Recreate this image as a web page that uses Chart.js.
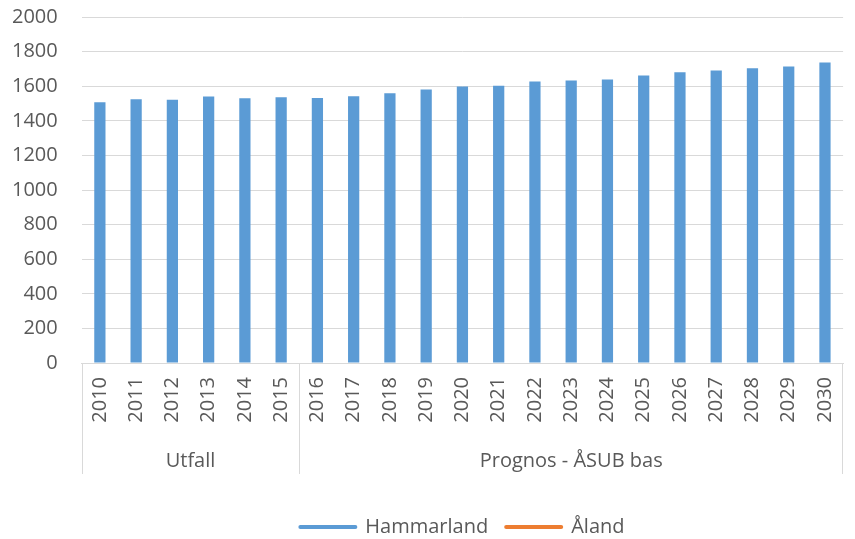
<!DOCTYPE html>
<html lang="sv">
<head>
  <meta charset="UTF-8" />
  <title>Hammarland</title>
  <script src="https://cdn.jsdelivr.net/npm/chart.js"></script>
  <style>
    html, body {
      margin: 0;
      padding: 0;
      background: #ffffff;
    }
    #wrap {
      width: 855px;
      height: 539px;
    }
  </style>
</head>
<body>
  <div id="wrap"><canvas id="chart" width="855" height="539"></canvas></div>

  <script>
    const years = ['2010', '2011', '2012', '2013', '2014', '2015', '2016', '2017', '2018', '2019', '2020',
      '2021', '2022', '2023', '2024', '2025', '2026', '2027', '2028', '2029', '2030'];
    const hammarland = [1507, 1525, 1522, 1540, 1530, 1536, 1532, 1542, 1559, 1581, 1598,
      1602, 1627, 1633, 1639, 1662, 1681, 1691, 1704, 1714, 1737];
    const aland = [];
    const groupNames = ['Utfall', 'Prognos - ÅSUB bas'];
    const groupSizes = [6, 15];
    const yTicks = [0, 200, 400, 600, 800, 1000, 1200, 1400, 1600, 1800, 2000];

    const textColor = '#595959';
    const lineColor = '#d9d9d9';
    const font = "'Open Sans', sans-serif";

    // grupprader under x-axeln (Utfall / Prognos)
    const groupAxis = {
      id: 'groupAxis',
      afterDraw(chart) {
        const ctx = chart.ctx;
        const x = chart.scales.x;
        const step = x.width / years.length;
        const top = chart.chartArea.bottom;
        const bottom = top + 111;
        ctx.save();
        ctx.strokeStyle = lineColor;
        ctx.lineWidth = 1;
        ctx.fillStyle = textColor;
        ctx.font = '20px ' + font;
        ctx.textAlign = 'center';
        ctx.textBaseline = 'middle';
        let idx = 0;
        const edges = [x.getPixelForValue(0) - step / 2];
        groupNames.forEach((name, i) => {
          const start = x.getPixelForValue(idx) - step / 2;
          idx += groupSizes[i];
          const end = x.getPixelForValue(idx - 1) + step / 2;
          edges.push(end);
          ctx.fillText(name, (start + end) / 2, top + 98);
        });
        edges.forEach(e => {
          const px = Math.round(Math.min(e, chart.chartArea.right - 1)) + 0.5;
          ctx.beginPath();
          ctx.moveTo(px, top);
          ctx.lineTo(px, bottom);
          ctx.stroke();
        });
        ctx.restore();
      }
    };

    new Chart(document.getElementById('chart').getContext('2d'), {
      type: 'bar',
      data: {
        labels: years,
        datasets: [{
          label: 'Hammarland',
          data: hammarland,
          backgroundColor: '#5b9bd5',
          borderWidth: 0,
          barPercentage: 0.31,
          categoryPercentage: 1
        }, {
          type: 'line',
          label: 'Åland',
          data: aland,
          borderColor: '#ed7d31',
          backgroundColor: '#ed7d31',
          borderWidth: 3
        }]
      },
      options: {
        responsive: false,
        animation: false,
        layout: {
          padding: { left: 8, right: 1, top: 17, bottom: -8 }
        },
        plugins: {
          tooltip: { enabled: false },
          legend: {
            position: 'bottom',
            fullSize: false,
            labels: {
              color: textColor,
              font: { family: font, size: 20 },
              usePointStyle: true,
              pointStyleWidth: 55,
              padding: 18,
              generateLabels(chart) {
                return chart.data.datasets.map((ds, i) => ({
                  text: ds.label,
                  fillStyle: i === 0 ? ds.backgroundColor : ds.borderColor,
                  strokeStyle: i === 0 ? ds.backgroundColor : ds.borderColor,
                  lineWidth: 4,
                  lineCap: 'round',
                  pointStyle: 'line',
                  fontColor: textColor,
                  datasetIndex: i
                }));
              }
            }
          }
        },
        scales: {
          x: {
            grid: { display: false },
            border: { display: true, color: lineColor },
            ticks: {
              color: textColor,
              font: { family: font, size: 20 },
              minRotation: 90,
              maxRotation: 90,
              autoSkip: false,
              padding: 6
            },
            afterFit(scale) {
              scale.height = 136;
            }
          },
          y: {
            min: 0,
            max: 2000,
            afterBuildTicks(scale) {
              scale.ticks = yTicks.map(v => ({ value: v }));
            },
            grid: { color: lineColor, lineWidth: 1, drawTicks: true, tickLength: 20, tickColor: 'rgba(0,0,0,0)' },
            border: { display: false },
            ticks: {
              color: textColor,
              font: { family: font, size: 20 },
              padding: 4,
              callback: v => String(v)
            }
          }
        }
      },
      plugins: [groupAxis]
    });
  </script>
</body>
</html>
